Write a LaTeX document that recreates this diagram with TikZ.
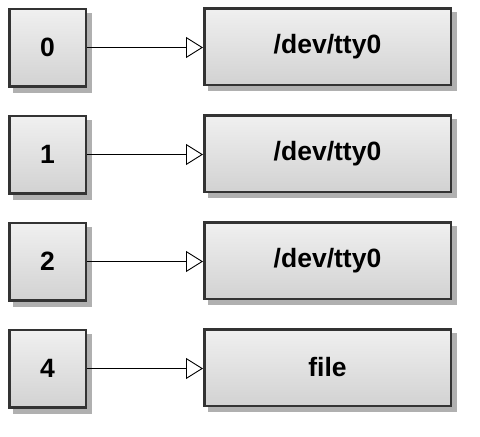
\documentclass[tikz,border=0pt]{standalone}
\usepackage{fontspec}
\setmainfont{Liberation Sans}
\usetikzlibrary{arrows.meta,backgrounds}
\definecolor{boxline}{HTML}{333333}
\definecolor{shadowgray}{HTML}{B0B0B0}
\definecolor{topfill}{HTML}{F0F0F0}
\definecolor{botfill}{HTML}{D2D2D2}
\tikzset{
  fdbox/.style={draw=boxline, line width=2.5pt, top color=topfill, bottom color=botfill,
    minimum width=76.5pt, minimum height=77.5pt, inner sep=0pt,
    font=\fontsize{26.5}{26.5}\selectfont\bfseries},
  targetbox/.style={fdbox, minimum width=246.5pt, minimum height=76.5pt},
  link/.style={line width=0.9pt, -{Triangle[open, length=17pt, width=21pt, line width=0.9pt]}},
}
\newcommand{\boxshadow}[1]{\fill[shadowgray] ([shift={(5pt,-5pt)}]#1.south west) rectangle ([shift={(5pt,-5pt)}]#1.north east);}
\begin{document}
\begin{tikzpicture}[x=1pt,y=-1pt]
\useasboundingbox (0,0) rectangle (480,437);
\node[fdbox] (f0) at (47.5,47.5) {0};
\node[fdbox] (f1) at (47.5,154.5) {1};
\node[fdbox] (f2) at (47.5,261.5) {2};
\node[fdbox] (f4) at (47.5,368.5) {4};
\node[targetbox] (t0) at (327.5,46.5) {/dev/tty0};
\node[targetbox] (t1) at (327.5,153.5) {/dev/tty0};
\node[targetbox] (t2) at (327.5,260.5) {/dev/tty0};
\node[targetbox] (t4) at (327.5,367.5) {file};
\begin{scope}[on background layer]
\boxshadow{f0}\boxshadow{f1}\boxshadow{f2}\boxshadow{f4}
\boxshadow{t0}\boxshadow{t1}\boxshadow{t2}\boxshadow{t4}
\end{scope}
\draw[link] (f0.east) -- (f0.east -| t0.west);
\draw[link, line width=1.4pt] (f1.east) -- (f1.east -| t1.west);
\draw[link] (f2.east) -- (f2.east -| t2.west);
\draw[link] (f4.east) -- (f4.east -| t4.west);
\end{tikzpicture}
\end{document}
